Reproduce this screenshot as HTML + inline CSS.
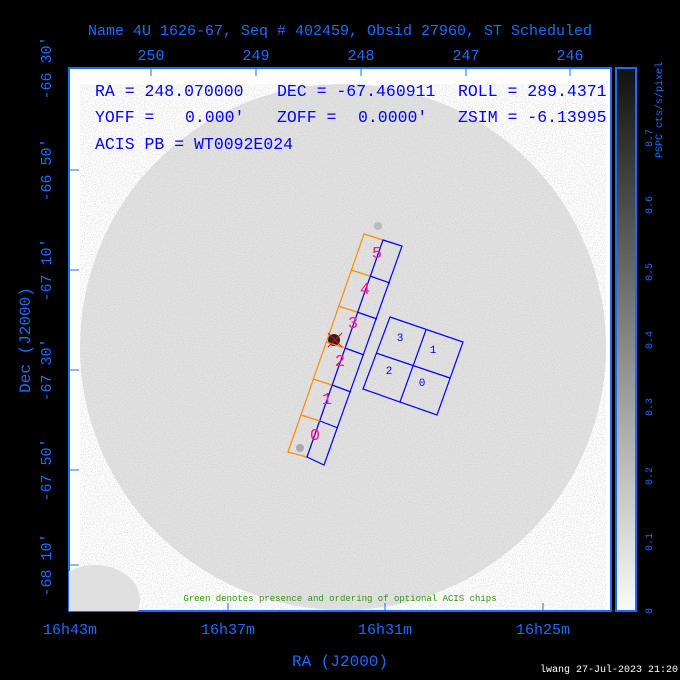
<!DOCTYPE html>
<html><head><meta charset="utf-8"><style>
html,body{margin:0;padding:0;background:#000;}
svg{display:block}
text{font-family:"Liberation Mono","DejaVu Sans Mono",monospace;}
</style></head><body>
<svg width="680" height="680" xmlns="http://www.w3.org/2000/svg">
<defs>
<filter id="n" x="0" y="0" width="100%" height="100%">
<feTurbulence type="fractalNoise" baseFrequency="0.9" numOctaves="1" seed="3"/>
<feColorMatrix type="matrix" values="0 0 0 0 0.55  0 0 0 0 0.55  0 0 0 0 0.55  0 0 0 -2.2 1.25"/>
</filter>
<linearGradient id="cb" x1="0" y1="1" x2="0" y2="0">
<stop offset="0" stop-color="#fafafa"/><stop offset="1" stop-color="#111"/>
</linearGradient>
<clipPath id="pc"><rect x="69" y="68" width="542" height="543"/></clipPath>
</defs>
<text x="340" y="35" fill="#1a6cff" font-size="15" text-anchor="middle">Name 4U 1626-67, Seq # 402459, Obsid 27960, ST Scheduled</text>
<rect x="69" y="68" width="542" height="543" fill="#fff" stroke="#1a6cff" stroke-width="2"/>
<g clip-path="url(#pc)">
<circle cx="343" cy="347" r="263" fill="#e2e2e2"/>
<circle cx="343" cy="347" r="263" fill="#fff" filter="url(#n)" opacity="0.7"/>
<ellipse cx="95" cy="600" rx="45" ry="35" fill="#e0e0e0"/>
<circle cx="334" cy="340" r="6" fill="#222"/>
<circle cx="378" cy="226" r="4" fill="#bbb"/>
<circle cx="300" cy="448" r="4" fill="#aaa"/>
</g>
<g stroke="#1a6cff" stroke-width="1">
<line x1="151" y1="68" x2="151" y2="76"/><line x1="256" y1="68" x2="256" y2="76"/><line x1="361" y1="68" x2="361" y2="76"/><line x1="466" y1="68" x2="466" y2="76"/><line x1="570" y1="68" x2="570" y2="76"/>
<line x1="69" y1="170" x2="79" y2="170"/><line x1="69" y1="270" x2="79" y2="270"/><line x1="69" y1="370" x2="79" y2="370"/><line x1="69" y1="470" x2="79" y2="470"/><line x1="69" y1="565" x2="79" y2="565"/>
<line x1="228" y1="611" x2="228" y2="603"/><line x1="385" y1="611" x2="385" y2="603"/><line x1="543" y1="611" x2="543" y2="603"/>
</g>
<g fill="none" stroke-width="1.2">
<polygon points="364,234 383,240 307,457 288,452" stroke="#ff8c00"/>
<polygon points="383,240 402,246 324,465 307,457" stroke="#0000ff"/>
<g stroke="#ff8c00">
<line x1="351" y1="270" x2="370" y2="276"/><line x1="338" y1="306" x2="357" y2="312"/><line x1="326" y1="342" x2="345" y2="348"/><line x1="313" y1="379" x2="332" y2="385"/><line x1="301" y1="415" x2="320" y2="421"/>
</g>
<g stroke="#0000ff">
<line x1="370" y1="276" x2="390" y2="283"/><line x1="357" y1="312" x2="377" y2="319"/><line x1="345" y1="348" x2="364" y2="355"/><line x1="332" y1="385" x2="351" y2="392"/><line x1="320" y1="421" x2="338" y2="428"/>
<polygon points="390,317 463,342 437,415 363,389"/>
<line x1="426" y1="330" x2="400" y2="402"/><line x1="376" y1="353" x2="450" y2="378"/>
</g>
</g>
<path d="M328,333 L342,347 M342,333 L328,347" stroke="#f00" stroke-width="1"/>
<g fill="#ff1493" font-size="17" font-family="Liberation Serif" text-anchor="middle">
<text x="377" y="258">5</text><text x="365" y="294">4</text><text x="353" y="328">3</text><text x="340" y="366">2</text><text x="327" y="404">1</text><text x="315" y="440">0</text>
</g>
<g fill="#0000ff" font-size="11" text-anchor="middle">
<text x="400" y="341">3</text><text x="433" y="353">1</text><text x="389" y="374">2</text><text x="422" y="386">0</text>
</g>
<g fill="#0000ff" font-size="16.5">
<text x="95" y="96">RA = 248.070000</text><text x="277" y="96">DEC = -67.460911</text><text x="458" y="96">ROLL = 289.4371</text>
<text x="95" y="122">YOFF =</text><text x="185" y="122">0.000'</text><text x="277" y="122">ZOFF =</text><text x="358" y="122">0.0000'</text><text x="458" y="122">ZSIM = -6.13995</text>
<text x="95" y="149">ACIS PB = WT0092E024</text>
</g>
<text x="340" y="601" fill="#2a9a00" font-size="9" text-anchor="middle">Green denotes presence and ordering of optional ACIS chips</text>
<rect x="616" y="68" width="20" height="543" fill="url(#cb)" stroke="#1a6cff" stroke-width="2"/>
<g fill="#1a6cff" font-size="10">
<text transform="translate(652,611) rotate(-90)" text-anchor="middle">0</text>
<text transform="translate(652,542) rotate(-90)" text-anchor="middle">0.1</text>
<text transform="translate(652,476) rotate(-90)" text-anchor="middle">0.2</text>
<text transform="translate(652,407) rotate(-90)" text-anchor="middle">0.3</text>
<text transform="translate(652,340) rotate(-90)" text-anchor="middle">0.4</text>
<text transform="translate(652,272) rotate(-90)" text-anchor="middle">0.5</text>
<text transform="translate(652,205) rotate(-90)" text-anchor="middle">0.6</text>
<text transform="translate(652,138) rotate(-90)" text-anchor="middle">0.7</text>
<text transform="translate(662,110) rotate(-90)" text-anchor="middle">PSPC cts/s/pixel</text>
</g>
<g fill="#1a6cff" font-size="15">
<text x="151" y="60" text-anchor="middle">250</text><text x="256" y="60" text-anchor="middle">249</text><text x="361" y="60" text-anchor="middle">248</text><text x="466" y="60" text-anchor="middle">247</text><text x="570" y="60" text-anchor="middle">246</text>
<text x="70" y="634" text-anchor="middle">16h43m</text><text x="228" y="634" text-anchor="middle">16h37m</text><text x="385" y="634" text-anchor="middle">16h31m</text><text x="543" y="634" text-anchor="middle">16h25m</text>
<text x="340" y="666" text-anchor="middle" font-size="16">RA (J2000)</text>
<text transform="translate(51,68) rotate(-90)" text-anchor="middle">-66 30'</text>
<text transform="translate(51,170) rotate(-90)" text-anchor="middle">-66 50'</text>
<text transform="translate(51,270) rotate(-90)" text-anchor="middle">-67 10'</text>
<text transform="translate(51,370) rotate(-90)" text-anchor="middle">-67 30'</text>
<text transform="translate(51,470) rotate(-90)" text-anchor="middle">-67 50'</text>
<text transform="translate(51,565) rotate(-90)" text-anchor="middle">-68 10'</text>
<text transform="translate(30,340) rotate(-90)" text-anchor="middle" font-size="16">Dec (J2000)</text>
</g>
<text x="678" y="672" fill="#fff" font-size="10" text-anchor="end">lwang 27-Jul-2023 21:20</text>
</svg>
</body></html>
